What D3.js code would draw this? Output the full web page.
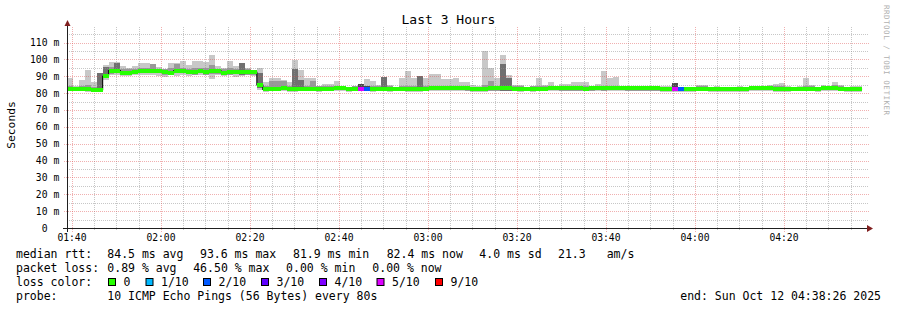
<!DOCTYPE html>
<html>
<head>
<meta charset="utf-8">
<script src="https://cdn.jsdelivr.net/npm/d3@7/dist/d3.min.js"></script>
<style>
  html, body { margin: 0; padding: 0; background: #fff; }
  svg { display: block; font-family: "DejaVu Sans Mono", monospace; }
  text { white-space: pre; }
</style>
</head>
<body>
<div id="chart"></div>
<script>
// smokeping "Last 3 Hours", one entry per 80 s step
const startTime = new Date(2025, 9, 12, 1, 38, 26);
const endTime = new Date(2025, 9, 12, 4, 38, 26);
const firstStep = new Date(2025, 9, 12, 1, 38, 53);
const stepSec = 80;

const median = [
  82.3, 82.5, 82.3, 82.3, 81.9, 82.0, 90.0, 93.3, 93.3, 92.2,
  92.2, 92.4, 93.0, 93.2, 93.4, 93.3, 92.3, 92.2, 93.3, 93.4,
  92.4, 92.5, 93.4, 92.5, 93.0, 93.0, 92.2, 92.3, 92.6, 92.6,
  92.3, 92.3, 84.8, 82.2, 82.6, 82.6, 83.2, 82.3, 82.6, 82.6,
  82.6, 82.5, 82.6, 82.6, 82.5, 83.2, 83.2, 82.6, 82.6, 82.7,
  82.7, 82.6, 82.6, 82.6, 82.5, 82.6, 82.6, 82.2, 82.2, 82.6,
  82.6, 83.2, 83.2, 83.2, 83.2, 83.2, 83.2, 83.1, 82.2, 82.2,
  82.2, 82.8, 82.8, 82.8, 82.8, 82.6, 82.6, 82.6, 82.5, 82.6,
  82.6, 83.2, 83.2, 82.8, 82.8, 82.8, 82.8, 82.7, 82.8, 82.8,
  82.8, 83.2, 83.2, 83.2, 82.8, 82.8, 82.8, 82.8, 82.8, 82.8,
  82.4, 82.4, 82.3, 82.3, 82.4, 82.4, 82.6, 82.6, 82.2, 82.2,
  82.2, 82.2, 82.2, 82.2, 82.2, 83.2, 83.2, 83.2, 83.0, 82.2,
  82.2, 82.2, 82.6, 82.6, 82.6, 82.6, 82.4, 83.0, 83.0, 83.0,
  82.6, 82.2, 82.4, 82.4
];

// light smoke: slowest / fastest ping
const smokeMax = [
  89.0, 84.5, 87.5, 93.5, 86.5, 92.0, 96.5, 98.6, 98.3, 96.1,
  94.7, 96.3, 97.7, 97.7, 97.3, 95.7, 94.3, 97.7, 98.1, 99.2,
  96.7, 99.2, 99.2, 98.6, 102.6, 96.1, 94.7, 99.2, 96.1, 97.7,
  94.7, 93.7, 94.7, 86.8, 89.2, 89.0, 87.5, 86.5, 99.6, 93.7,
  88.8, 88.8, 84.5, 85.2, 85.2, 87.2, 83.8, 83.2, 83.2, 85.4,
  88.4, 87.2, 84.8, 89.8, 84.8, 83.8, 89.2, 93.1, 88.8, 90.3,
  89.2, 91.1, 91.1, 88.2, 88.2, 88.8, 86.4, 86.8, 84.8, 84.0,
  105.0, 94.7, 88.8, 102.6, 90.7, 84.8, 84.8, 83.8, 84.4, 89.2,
  84.8, 86.8, 84.4, 85.2, 85.2, 86.8, 86.4, 86.8, 83.8, 85.2,
  93.1, 89.2, 89.8, 84.4, 83.8, 83.8, 83.2, 83.8, 83.2, 84.4,
  84.2, 84.2, 86.2, 83.8, 83.4, 83.8, 84.8, 84.8, 83.8, 84.2,
  83.8, 83.4, 83.8, 84.2, 83.8, 83.4, 84.2, 84.2, 84.8, 85.4,
  85.8, 84.2, 83.4, 84.2, 88.8, 84.8, 83.4, 84.8, 84.2, 86.6,
  84.8, 83.8, 84.2, 84.2
];
const smokeMin = [
  81.0, 81.0, 81.0, 80.8, 80.5, 80.5, 88.0, 90.5, 90.8, 90.2,
  90.2, 90.6, 90.8, 91.0, 90.5, 90.4, 89.8, 90.5, 90.2, 91.0,
  90.0, 90.5, 90.5, 90.5, 88.4, 90.8, 90.2, 90.5, 89.5, 90.0,
  90.5, 90.2, 82.0, 80.8, 81.0, 81.0, 81.2, 80.8, 80.8, 81.0,
  81.0, 81.2, 80.8, 81.0, 81.0, 81.5, 81.5, 80.8, 81.0, 81.0,
  81.0, 80.8, 81.0, 81.0, 80.8, 81.0, 81.0, 80.5, 80.8, 80.5,
  81.0, 81.5, 81.5, 81.0, 81.0, 81.5, 81.5, 81.0, 80.5, 80.8,
  80.5, 81.0, 81.0, 81.0, 81.0, 81.0, 80.8, 81.0, 80.8, 81.0,
  81.0, 81.5, 81.0, 81.0, 81.0, 81.0, 81.0, 81.0, 81.0, 81.2,
  81.0, 81.5, 81.5, 81.0, 81.0, 81.0, 81.0, 81.0, 81.0, 81.0,
  80.8, 80.8, 80.8, 80.8, 80.5, 80.8, 81.0, 81.0, 80.5, 80.5,
  80.5, 80.5, 80.5, 80.5, 80.5, 81.3, 81.5, 81.5, 81.2, 80.8,
  80.5, 80.5, 81.0, 81.0, 81.0, 81.0, 80.8, 81.3, 81.3, 81.3,
  81.0, 80.5, 80.8, 80.8
];

// dark smoke: pings nearer to the median
const innerHi = [
  84.0, 83.8, 84.0, 85.0, 83.5, 92.0, 95.5, 95.5, 98.0, 94.5,
  94.0, 94.5, 95.0, 95.0, 97.3, 94.5, 94.0, 95.0, 97.0, 95.0,
  94.0, 95.0, 95.0, 95.0, 96.7, 94.5, 94.0, 95.0, 94.5, 97.7,
  94.0, 93.7, 92.0, 84.0, 87.0, 87.0, 87.2, 84.0, 94.0, 88.0,
  84.5, 87.0, 84.0, 84.0, 84.0, 84.5, 83.5, 83.0, 84.0, 85.4,
  84.0, 84.0, 84.0, 89.8, 84.0, 83.5, 84.0, 84.5, 84.0, 90.3,
  84.5, 84.5, 84.5, 84.5, 84.0, 84.5, 84.0, 84.5, 83.8, 83.5,
  85.0, 87.2, 84.0, 97.0, 88.8, 84.0, 84.0, 83.5, 84.0, 84.0,
  84.0, 84.5, 84.0, 84.0, 84.5, 84.5, 84.0, 84.0, 83.5, 84.0,
  84.5, 84.5, 84.5, 84.0, 83.5, 83.5, 83.0, 83.5, 83.0, 83.8,
  83.5, 83.5, 86.2, 83.5, 83.0, 83.5, 84.0, 84.0, 83.5, 83.5,
  83.5, 83.0, 83.5, 83.5, 83.5, 83.0, 84.0, 84.0, 84.0, 84.5,
  84.5, 83.5, 83.0, 83.5, 84.0, 84.0, 83.0, 84.0, 84.0, 85.0,
  84.0, 83.5, 83.5, 83.5
];
const innerLo = [
  81.5, 81.5, 81.5, 81.5, 81.0, 81.0, 89.0, 91.5, 91.8, 91.0,
  91.0, 91.2, 91.8, 92.0, 92.0, 91.8, 91.0, 91.0, 92.0, 92.0,
  91.2, 91.0, 92.0, 91.0, 91.5, 91.5, 91.0, 91.0, 91.2, 91.0,
  91.0, 91.0, 83.0, 81.3, 81.5, 81.8, 82.0, 81.5, 82.0, 81.8,
  81.5, 81.8, 81.5, 81.5, 81.5, 82.0, 82.0, 81.5, 81.5, 81.5,
  81.5, 81.5, 81.5, 81.5, 81.5, 81.5, 81.5, 81.2, 81.2, 81.0,
  81.5, 82.0, 82.0, 81.8, 81.8, 82.0, 82.0, 81.5, 81.2, 81.2,
  81.2, 81.5, 81.5, 81.5, 81.5, 81.5, 81.5, 81.5, 81.5, 81.5,
  81.5, 82.0, 81.8, 81.5, 81.5, 81.5, 81.5, 81.5, 81.5, 81.8,
  81.5, 82.0, 82.0, 81.8, 81.5, 81.5, 81.5, 81.5, 81.5, 81.5,
  81.3, 81.3, 81.3, 81.3, 81.3, 81.3, 81.5, 81.5, 81.0, 81.0,
  81.0, 81.0, 81.0, 81.0, 81.0, 81.8, 82.0, 82.0, 81.8, 81.2,
  81.0, 81.0, 81.5, 81.5, 81.5, 81.5, 81.3, 81.8, 81.8, 81.8,
  81.5, 81.0, 81.3, 81.3
];

// lost pings out of 10 per step
const lostPings = [
  0, 0, 0, 0, 0, 0, 0, 0, 0, 0,  0, 0, 0, 0, 0, 0, 0, 0, 0, 0,
  0, 0, 0, 0, 0, 0, 0, 0, 0, 0,  0, 0, 0, 0, 0, 0, 0, 0, 0, 0,
  0, 0, 0, 0, 0, 0, 0, 0, 0, 5,  2, 0, 0, 0, 0, 0, 0, 0, 0, 0,
  0, 0, 0, 0, 0, 0, 0, 0, 0, 0,  0, 0, 0, 0, 0, 0, 0, 0, 0, 0,
  0, 0, 0, 0, 0, 0, 0, 0, 0, 0,  0, 0, 0, 0, 0, 0, 0, 0, 0, 0,
  0, 0, 5, 2, 0, 0, 0, 0, 0, 0,  0, 0, 0, 0, 0, 0, 0, 0, 0, 0,
  0, 0, 0, 0, 0, 0, 0, 0, 0, 0,  0, 0, 0, 0
];

const lossThresholds = [0, 1, 2, 3, 4, 5, 9];
const lossLabels = ['0', '1/10', '2/10', '3/10', '4/10', '5/10', '9/10'];
const lossColors = ['#26ff00', '#00b8ff', '#0059ff', '#5e00ff', '#7e00ff', '#dd00ff', '#ff0000'];

const yTicks = [0, 10, 20, 30, 40, 50, 60, 70, 80, 90, 100, 110];
const rttStats = ['84.5 ms avg', '93.6 ms max', '81.9 ms min', '82.4 ms now', '4.0 ms sd', '21.3', 'am/s'];
const lossStats = ['0.89 % avg', '46.50 % max', '0.00 % min', '0.00 % now'];
const probeText = '10 ICMP Echo Pings (56 Bytes) every 80s';
const endText = 'end: Sun Oct 12 04:38:26 2025';

const W = 897, H = 310;
const FONT = '"DejaVu Sans Mono", monospace';

const svg = d3.select('#chart').append('svg')
  .attr('width', W).attr('height', H);

svg.append('rect').attr('width', W).attr('height', H).attr('fill', '#fff');

const x = d3.scaleTime().domain([startTime, endTime]).range([65, 866]);
const y = d3.scaleLinear().domain([0, 119.2]).range([228, 27]);

const stepStart = (i) => new Date(firstStep.getTime() + i * stepSec * 1000);

const steps = median.map((m, i) => ({
  i,
  med: m,
  lo: smokeMin[i],
  hi: smokeMax[i],
  ilo: innerLo[i],
  ihi: innerHi[i],
  lost: lostPings[i],
  x0: x(stepStart(i)),
  x1: x(stepStart(i + 1)),
}));

const lossColor = (n) => {
  let k = 0;
  lossThresholds.forEach((t, j) => { if (n >= t) k = j; });
  return lossColors[k];
};

// smoke
const smoke = svg.append('g').attr('shape-rendering', 'crispEdges');
smoke.selectAll('rect.light').data(steps).enter().append('rect')
  .attr('class', 'light')
  .attr('x', (d) => d.x0).attr('width', (d) => d.x1 - d.x0)
  .attr('y', (d) => y(d.hi)).attr('height', (d) => y(d.lo) - y(d.hi))
  .attr('fill', '#c8c8c8');
smoke.selectAll('rect.dark').data(steps).enter().append('rect')
  .attr('class', 'dark')
  .attr('x', (d) => d.x0).attr('width', (d) => d.x1 - d.x0)
  .attr('y', (d) => y(d.ihi)).attr('height', (d) => y(d.ilo) - y(d.ihi))
  .attr('fill', (d) => {
    if (d.lost > 0) return '#4a4a4a';
    return d.ihi - d.ilo > 6 ? '#707070' : '#999999';
  });

// grid
const grid = svg.append('g').attr('shape-rendering', 'crispEdges');
const minorColor = 'rgba(143,143,143,0.5)';
const majorColor = 'rgba(222,79,79,0.45)';

const hMinor = d3.range(5, 116, 5).filter((v) => v % 10 !== 0);
grid.selectAll('line.hmin').data(hMinor).enter().append('line')
  .attr('x1', 67).attr('x2', 869)
  .attr('y1', (d) => Math.round(y(d)) + 0.5).attr('y2', (d) => Math.round(y(d)) + 0.5)
  .attr('stroke', minorColor).attr('stroke-dasharray', '1,1');

const vTimes = d3.timeMinute.every(5).range(startTime, endTime);
grid.selectAll('line.vmin').data(vTimes.filter((t) => t.getMinutes() % 20 !== 0)).enter().append('line')
  .attr('x1', (d) => Math.round(x(d)) + 0.5).attr('x2', (d) => Math.round(x(d)) + 0.5)
  .attr('y1', 27).attr('y2', 231)
  .attr('stroke', minorColor).attr('stroke-dasharray', '1,1');

grid.selectAll('line.hmaj').data(yTicks.filter((v) => v > 0)).enter().append('line')
  .attr('x1', 64).attr('x2', 869)
  .attr('y1', (d) => Math.round(y(d)) + 0.5).attr('y2', (d) => Math.round(y(d)) + 0.5)
  .attr('stroke', majorColor).attr('stroke-dasharray', '1,1');

const majTimes = vTimes.filter((t) => t.getMinutes() % 20 === 0);
grid.selectAll('line.vmaj').data(majTimes).enter().append('line')
  .attr('x1', (d) => Math.round(x(d)) + 0.5).attr('x2', (d) => Math.round(x(d)) + 0.5)
  .attr('y1', 27).attr('y2', 232)
  .attr('stroke', majorColor).attr('stroke-dasharray', '1,1');

// median line + loss coloured band
const medLine = d3.line().curve(d3.curveStepAfter)
  .x((d) => d[0]).y((d) => d[1]);
const medPts = steps.map((d) => [d.x0, y(d.med)]);
medPts.push([steps[steps.length - 1].x1, y(steps[steps.length - 1].med)]);
svg.append('path').attr('d', medLine(medPts))
  .attr('fill', 'none').attr('stroke', '#111').attr('stroke-width', 1.2);

svg.append('g').attr('shape-rendering', 'crispEdges')
  .selectAll('rect').data(steps).enter().append('rect')
  .attr('x', (d) => d.x0).attr('width', (d) => d.x1 - d.x0)
  .attr('y', (d) => y(d.med) - 2).attr('height', 4)
  .attr('fill', (d) => lossColor(d.lost));

// axes
const axisG = svg.append('g');
axisG.append('line').attr('x1', 63).attr('x2', 869).attr('y1', 228.5).attr('y2', 228.5)
  .attr('stroke', '#1f1f1f');
axisG.append('line').attr('x1', 67.5).attr('x2', 67.5).attr('y1', 232).attr('y2', 25)
  .attr('stroke', '#1f1f1f');
axisG.append('path').attr('d', 'M867,225 L873,228.5 L867,232 Z').attr('fill', '#801f1f');
axisG.append('path').attr('d', 'M64.5,26 L67.5,20 L70.5,26 Z').attr('fill', '#801f1f');

// y labels
const yl = svg.append('g').attr('font-family', FONT).attr('font-size', 9.7).attr('fill', '#000');
yl.selectAll('text.num').data(yTicks).enter().append('text')
  .attr('x', 47.5).attr('y', (d) => y(d) + 3.5)
  .attr('text-anchor', 'end').text((d) => d);
yl.selectAll('text.unit').data(yTicks.filter((v) => v > 0)).enter().append('text')
  .attr('x', 53.5).attr('y', (d) => y(d) + 3.5).text('m');

// x labels
const fmt = d3.timeFormat('%H:%M');
svg.append('g').attr('font-family', FONT).attr('font-size', 9.7)
  .selectAll('text').data(majTimes).enter().append('text')
  .attr('x', (d) => x(d)).attr('y', 241).attr('text-anchor', 'middle')
  .text((d) => fmt(d));

// title, axis title, watermark
svg.append('text').attr('x', 448.5).attr('y', 24).attr('text-anchor', 'middle')
  .attr('font-family', FONT).attr('font-size', 13).text('Last 3 Hours');
svg.append('text').attr('transform', 'translate(15,125) rotate(-90)')
  .attr('text-anchor', 'middle').attr('font-family', FONT).attr('font-size', 11.3)
  .text('Seconds');
svg.append('text').attr('transform', 'translate(884,5) rotate(90)')
  .attr('font-family', FONT).attr('font-size', 7.5).attr('fill', '#b0b0b0')
  .attr('textLength', 110).attr('lengthAdjust', 'spacing')
  .text('RRDTOOL / TOBI OETIKER');

// legend
const lg = svg.append('g').attr('font-family', FONT).attr('font-size', 11.5).attr('fill', '#000');
const row1X = [107.3, 200, 293, 386.7, 479.3, 558, 606.7];
lg.append('text').attr('x', 16).attr('y', 258).text('median rtt:');
lg.selectAll('text.r1').data(rttStats).enter().append('text')
  .attr('x', (d, i) => row1X[i]).attr('y', 258).text((d) => d);

const row2X = [107.3, 193.2, 286.1, 372.3];
lg.append('text').attr('x', 16).attr('y', 272).text('packet loss:');
lg.selectAll('text.r2').data(lossStats).enter().append('text')
  .attr('x', (d, i) => row2X[i]).attr('y', 272).text((d) => d);

const boxX = [108.5, 146, 203.5, 261.5, 319.5, 377, 435.5];
lg.append('text').attr('x', 16).attr('y', 286).text('loss color:');
lg.selectAll('rect.box').data(lossColors).enter().append('rect')
  .attr('x', (d, i) => boxX[i]).attr('y', 278.5).attr('width', 7).attr('height', 7)
  .attr('fill', (d) => d).attr('stroke', '#000').attr('stroke-width', 1);
lg.selectAll('text.r3').data(lossLabels).enter().append('text')
  .attr('x', (d, i) => boxX[i] + 15).attr('y', 286).text((d) => d);

lg.append('text').attr('x', 16).attr('y', 299.5).text('probe:');
lg.append('text').attr('x', 107.3).attr('y', 299.5).text(probeText);
lg.append('text').attr('x', 881).attr('y', 299.5).attr('text-anchor', 'end').text(endText);
</script>
</body>
</html>
